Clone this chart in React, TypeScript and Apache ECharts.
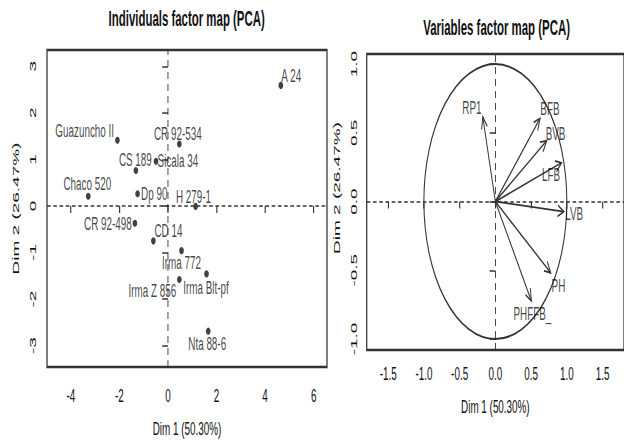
import React, { useEffect, useRef } from 'react';
import * as echarts from 'echarts';

// ---------- data ----------
const individuals = [
  'A 24', 'Guazuncho II', 'CR 92-534', 'CS 189', 'Sicala 34', 'Chaco 520', 'Dp 90',
  'H 279-1', 'CR 92-498', 'CD 14', 'Irma 772', 'Irma Blt-pf', 'Irma Z 856', 'Nta 88-6',
];
const indDim1 = [4.65, -2.08, 0.47, -1.32, -0.49, -3.28, -1.25, 1.14, -1.36, -0.6, 0.56, 1.59, 0.47, 1.66];
const indDim2 = [2.59, 1.41, 1.33, 0.76, 0.96, 0.21, 0.26, -0.01, -0.37, -0.75, -0.96, -1.46, -1.58, -2.69];

const variables = ['RP1', 'BFB', 'BVB', 'LFB', 'LVB', 'PH', 'PHFFB_'];
const varDim1 = [-0.176, 0.625, 0.718, 0.926, 0.958, 0.774, 0.504];
const varDim2 = [0.617, 0.605, 0.442, 0.282, -0.074, -0.518, -0.724];

const indXTicks = [-4, -2, 0, 2, 4, 6];
const indYTicks = [-3, -2, -1, 0, 1, 2, 3];
const varXTicks = [-1.5, -1, -0.5, 0, 0.5, 1, 1.5];
const varYTicks = [-1, -0.5, 0, 0.5, 1];

const titles = ['Individuals factor map (PCA)', 'Variables factor map (PCA)'];
const dim1Name = 'Dim 1 (50.30%)';
const dim2Name = 'Dim 2 (26.47%)';

// ---------- layout / style (not data) ----------
const SQUEEZE = 0.52; // the reference picture is squeezed horizontally
const W = 1200;
const H = 443;
const FONT = 'Liberation Sans, Arial, Helvetica, sans-serif';
const TXT = '#111';

const indLabelOffset: Record<string, number[]> = {
  'A 24': [20, -10],
  'Guazuncho II': [-63, -10],
  'CR 92-534': [-3, -11],
  'CS 189': [-1, -11],
  'Sicala 34': [42, -1],
  'Chaco 520': [-2, -13],
  'Dp 90': [32, -1],
  'H 279-1': [-4, -10],
  'CR 92-498': [-52, 0],
  'CD 14': [29, -11],
  'Irma 772': [0, 11],
  'Irma Blt-pf': [-1, 13],
  'Irma Z 856': [-52, 11],
  'Nta 88-6': [-2, 12],
};
const varLabelOffset: Record<string, number[]> = {
  RP1: [-21, -10],
  BFB: [19, -10],
  BVB: [17, -8],
  LFB: [-20, 11],
  LVB: [20, 1],
  PH: [15, 12],
  PHFFB_: [2, 12],
};

const zeroLines = {
  silent: true,
  symbol: 'none',
  label: { show: false },
  lineStyle: { color: '#333', width: 1.7, type: [7, 5] },
  data: [{ xAxis: 0 }, { yAxis: 0 }],
};

function axisCommon(ticks: number[], isY: boolean, margin: number, fmt?: (v: number) => string) {
  return {
    type: 'value',
    axisLine: { show: false },
    splitLine: { show: false },
    axisTick: {
      show: true,
      customValues: ticks,
      length: isY ? 11 : 7,
      lineStyle: { color: '#333', width: isY ? 1.5 : 2.2 },
    },
    axisLabel: {
      customValues: ticks,
      rotate: isY ? 90 : 0,
      margin,
      fontSize: 19,
      color: TXT,
      fontFamily: FONT,
      formatter: fmt,
    },
    nameLocation: 'middle',
    nameTextStyle: { fontSize: 19, color: TXT, fontFamily: FONT },
  } as any;
}

export default function App() {
  const ref = useRef<HTMLDivElement>(null);

  useEffect(() => {
    if (!ref.current) return;
    const chart = echarts.init(ref.current, null, { renderer: 'svg', width: W, height: H });
    const f1 = (v: number) => v.toFixed(1);

    const titleStyle = (text: string) => ({
      text, align: 'center', verticalAlign: 'middle',
      textAlign: 'center', textVerticalAlign: 'middle',
      font: `bold 22px ${FONT}`, fill: '#111',
    });

    const option: any = {
      animation: false,
      backgroundColor: '#fff',
      graphic: [
        { type: 'text', x: 359, y: 18, style: titleStyle(titles[0]) },
        { type: 'text', x: 955, y: 27, style: titleStyle(titles[1]) },
      ],
      grid: [
        { left: 90.4, top: 50, width: 538.4, height: 318, show: true, borderColor: '#333', borderWidth: 2.4, backgroundColor: 'transparent' },
        { left: 705.2, top: 54, width: 497, height: 296, show: true, borderColor: '#333', borderWidth: 2.4, backgroundColor: 'transparent' },
      ],
      xAxis: [
        { ...axisCommon(indXTicks, false, 19), gridIndex: 0, min: -4.98, max: 6.55, name: dim1Name, nameGap: 52 },
        { ...axisCommon(varXTicks, false, 14, f1), gridIndex: 1, min: -1.8, max: 1.8, name: dim1Name, nameGap: 47 },
      ],
      yAxis: [
        { ...axisCommon(indYTicks, true, 19), gridIndex: 0, min: -3.46, max: 3.35, name: dim2Name, nameGap: 52 },
        {
          ...axisCommon(varYTicks, true, 17, f1), gridIndex: 1, min: -1.08, max: 1.073, name: dim2Name, nameGap: 48,
          nameTextStyle: { fontSize: 19, color: TXT, fontFamily: FONT, padding: [0, 0, 0, 28] },
        },
      ],
      series: [
        {
          type: 'scatter',
          xAxisIndex: 0,
          yAxisIndex: 0,
          symbol: 'circle',
          symbolSize: [9, 7],
          itemStyle: { color: '#111' },
          data: individuals.map((n, i) => ({
            name: n,
            value: [indDim1[i], indDim2[i]],
            label: { offset: indLabelOffset[n] },
          })),
          label: {
            show: true,
            position: 'inside',
            formatter: '{b}',
            fontSize: 19,
            color: TXT,
            fontFamily: FONT,
          },
          markLine: zeroLines,
          z: 3,
        },
        {
          type: 'custom',
          xAxisIndex: 1,
          yAxisIndex: 1,
          data: [[0, 0]],
          silent: true,
          renderItem: (_p: any, api: any) => {
            const c = api.coord([0, 0]);
            const px = api.coord([1, 0]);
            const py = api.coord([0, 1]);
            const rx = px[0] - c[0];
            const ry = c[1] - py[1];
            const d = `M ${c[0] - rx} ${c[1]} A ${rx} ${ry} 0 1 0 ${c[0] + rx} ${c[1]} A ${rx} ${ry} 0 1 0 ${c[0] - rx} ${c[1]} Z`;
            return {
              type: 'path',
              shape: { pathData: d },
              style: { stroke: '#333', lineWidth: 2, fill: null },
            };
          },
        },
        {
          type: 'custom',
          xAxisIndex: 1,
          yAxisIndex: 1,
          silent: true,
          data: variables.map((n, i) => [varDim1[i], varDim2[i]]),
          renderItem: (_p: any, api: any) => {
            const p0 = api.coord([0, 0]);
            const p1 = api.coord([api.value(0), api.value(1)]);
            const ang = Math.atan2(p1[1] - p0[1], p1[0] - p0[0]);
            const L = 13;
            const a = Math.PI / 7;
            const h1 = [p1[0] - L * Math.cos(ang - a), p1[1] - L * Math.sin(ang - a)];
            const h2 = [p1[0] - L * Math.cos(ang + a), p1[1] - L * Math.sin(ang + a)];
            return {
              type: 'group',
              children: [
                { type: 'line', shape: { x1: p0[0], y1: p0[1], x2: p1[0], y2: p1[1] }, style: { stroke: '#333', lineWidth: 1.8 } },
                { type: 'polyline', shape: { points: [h1, p1, h2] }, style: { stroke: '#333', lineWidth: 1.8, fill: null } },
              ],
            };
          },
        },
        {
          type: 'scatter',
          xAxisIndex: 1,
          yAxisIndex: 1,
          symbolSize: 0,
          silent: true,
          data: variables.map((n, i) => ({
            name: n,
            value: [varDim1[i], varDim2[i]],
            label: { offset: varLabelOffset[n] },
          })),
          label: {
            show: true,
            position: 'inside',
            formatter: '{b}',
            fontSize: 19,
            color: TXT,
            fontFamily: FONT,
          },
          markLine: zeroLines,
        },
      ],
    };
    chart.setOption(option);
    return () => chart.dispose();
  }, []);

  return (
    <div style={{ position: 'absolute', left: 0, top: 0, width: 624, height: 443, overflow: 'hidden', background: '#fff' }}>
      <div
        ref={ref}
        style={{ width: W, height: H, transform: `scaleX(${SQUEEZE})`, transformOrigin: '0 0' }}
      />
    </div>
  );
}
